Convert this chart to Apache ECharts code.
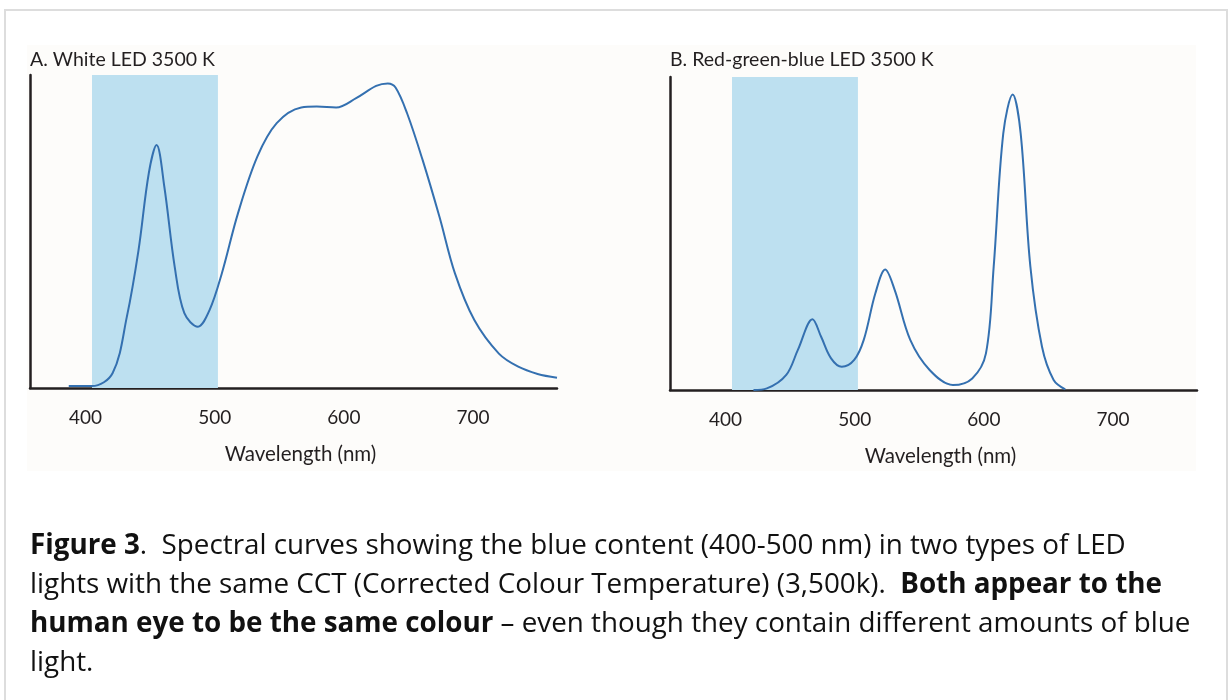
<!DOCTYPE html>
<html>
<head>
<meta charset="utf-8">
<title>Spectral curves – white LED vs RGB LED</title>
<script src="https://cdn.jsdelivr.net/npm/echarts@6/dist/echarts.min.js"></script>
<style>
  html, body { margin: 0; padding: 0; background: #fff; }
  #chart { width: 1229px; height: 700px; }
</style>
</head>
<body>
<div id="chart"></div>
<script>
// panel A: white LED 3500 K (wavelength nm, relative intensity)
const whiteWl = [387, 405, 421, 432, 441, 449, 455, 461, 469, 476.5, 487, 496, 505.5, 518, 533, 548, 567, 579, 594, 609.5, 625, 634, 640, 649, 661, 674, 686, 701, 720, 735, 750, 765];
const whiteVal = [0.6, 0.6, 4.8, 22.8, 44, 68.7, 77.6, 64.3, 38.8, 23.9, 19.6, 24.9, 36.6, 55.8, 73.9, 84.6, 89.6, 89.9, 89.6, 92.6, 96.5, 97.3, 96, 87.7, 72.8, 54.7, 36.6, 21.7, 11, 6.8, 4.5, 3.3];

// panel B: red-green-blue LED 3500 K
const rgbWl = [421.6, 432, 447, 456, 467.3, 474, 481.7, 490, 499.6, 507, 516, 523.6, 531, 543, 558, 576, 591, 601.6, 607.6, 615, 622.3, 628.5, 636, 645, 654, 663];
const rgbVal = [0, 0.5, 4.8, 12.8, 22.6, 17, 10.1, 7.4, 9.6, 16, 30.9, 38.5, 31.9, 16, 6.4, 1.6, 3.7, 11.7, 39.4, 81.9, 94.4, 81.9, 39.4, 13.8, 3.2, 0.2];

const tickValues = [400, 500, 600, 700];
const blueBand = [405, 502.5]; // shaded "blue content" band as drawn

const panelTitles = ['A. White LED 3500 K', 'B. Red-green-blue LED 3500 K'];
const axisName = 'Wavelength (nm)';

const ink = '#231f20';
const curveColor = '#3470b0';
const bandColor = '#bde0f0';
const labelFont = 'Lato, "Open Sans", sans-serif';
const captionFont = '"Open Sans", "Noto Sans", sans-serif';

function zip(xs, ys) {
  return xs.map((x, i) => [x, ys[i]]);
}

function xAxisFor(gridIndex) {
  return {
    type: 'value',
    gridIndex: gridIndex,
    min: 357,
    max: 765,
    name: axisName,
    nameLocation: 'middle',
    nameGap: 56,
    nameTextStyle: { color: ink, fontSize: 20.5, fontFamily: labelFont, padding: [0, 0, 0, 14] },
    axisLine: { show: true, lineStyle: { color: ink, width: 2.5 } },
    axisTick: { show: false },
    splitLine: { show: false },
    axisLabel: {
      customValues: tickValues,
      color: ink,
      fontSize: 19,
      fontFamily: labelFont,
      margin: 20
    }
  };
}

function yAxisFor(gridIndex) {
  return {
    type: 'value',
    gridIndex: gridIndex,
    min: 0,
    max: 100,
    axisLine: { show: true, lineStyle: { color: ink, width: 2.5 } },
    axisTick: { show: false },
    axisLabel: { show: false },
    splitLine: { show: false }
  };
}

function curve(index, data) {
  return {
    type: 'line',
    xAxisIndex: index,
    yAxisIndex: index,
    data: data,
    smooth: 0.35,
    showSymbol: false,
    lineStyle: { color: curveColor, width: 2 },
    silent: true,
    markArea: {
      silent: true,
      itemStyle: { color: bandColor, opacity: 1 },
      data: [[{ xAxis: blueBand[0], yAxis: 100 }, { xAxis: blueBand[1], yAxis: 0 }]]
    },
    z: 3
  };
}

const option = {
  animation: false,
  backgroundColor: '#ffffff',
  title: [
    {
      text: panelTitles[0], left: 25, top: 45,
      textStyle: { color: ink, fontSize: 19.5, fontWeight: 'normal', fontFamily: labelFont }
    },
    {
      text: panelTitles[1], left: 665, top: 45,
      textStyle: { color: ink, fontSize: 19.5, fontWeight: 'normal', fontFamily: labelFont }
    }
  ],
  grid: [
    { left: 30, top: 75, width: 527, height: 313 },
    { left: 670, top: 77, width: 527, height: 313 }
  ],
  xAxis: [xAxisFor(0), xAxisFor(1)],
  yAxis: [yAxisFor(0), yAxisFor(1)],
  series: [
    curve(0, zip(whiteWl, whiteVal)),
    curve(1, zip(rgbWl, rgbVal))
  ],
  graphic: [
    {
      type: 'rect', z: -20, silent: true,
      shape: { x: 5, y: 10, width: 1222, height: 700 },
      style: { fill: '#ffffff', stroke: '#dddddd', lineWidth: 2 }
    },
    {
      type: 'rect', z: -10, silent: true,
      shape: { x: 27, y: 45, width: 1169, height: 426 },
      style: { fill: '#fdfcfa' }
    },
    {
      type: 'text', left: 30, top: 526, silent: true,
      style: {
        text: '{b|Figure 3}.  Spectral curves showing the blue content (400-500 nm) in two types of LED\n' +
              'lights with the same CCT (Corrected Colour Temperature) (3,500k).  {b|Both appear to the}\n' +
              '{b|human eye to be the same colour} – even though they contain different amounts of blue\n' +
              'light.',
        fill: '#111111',
        font: '27.8px ' + captionFont,
        lineHeight: 39.3,
        rich: {
          b: { fontWeight: 'bold', fontSize: 27.8, fontFamily: captionFont, fill: '#111111', lineHeight: 39.3 }
        }
      }
    }
  ]
};

const chart = echarts.init(document.getElementById('chart'));
chart.setOption(option);
window.addEventListener('resize', () => chart.resize());
</script>
</body>
</html>
